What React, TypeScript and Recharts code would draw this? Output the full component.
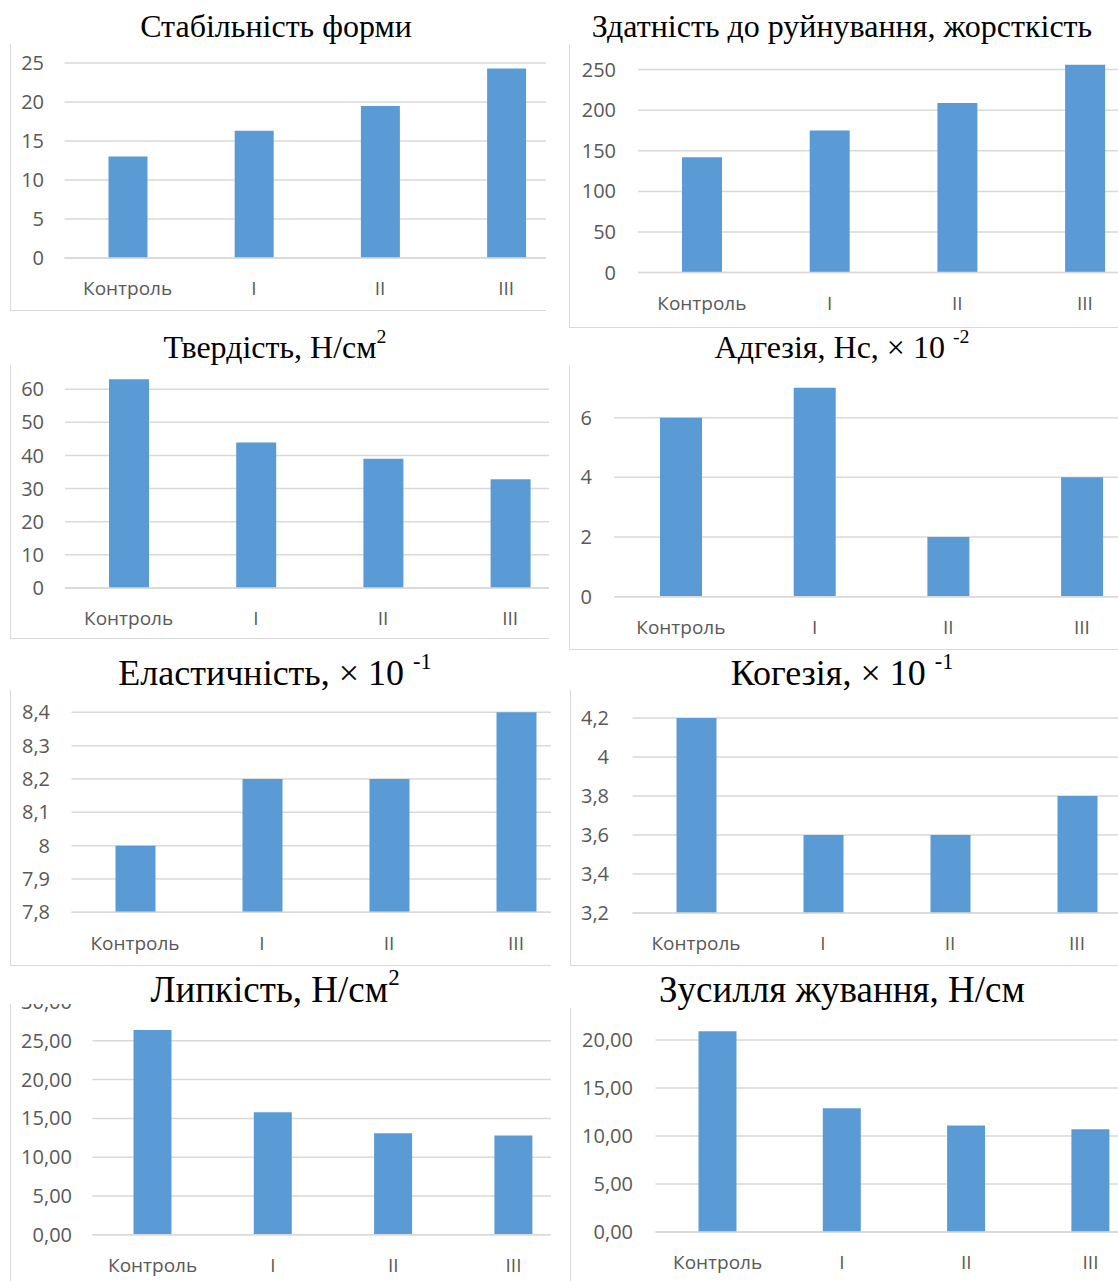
import React from 'react';
import { BarChart, Bar, XAxis, YAxis, CartesianGrid } from 'recharts';

const categories = ['Контроль', 'I', 'II', 'III'];

const shapeStability = [13, 16.3, 19.5, 24.3];
const fractureability = [142, 175, 209, 256];
const hardness = [63, 43.9, 39, 32.8];
const adhesion = [6, 7, 2, 4];
const elasticity = [8.0, 8.2, 8.2, 8.4];
const cohesion = [4.2, 3.6, 3.6, 3.8];
const stickiness = [26.4, 15.8, 13.1, 12.8];
const chewing = [20.9, 12.9, 11.1, 10.7];

// top of each axis is cut off in the source, so the last tick above the visible area is left out
const shapeTicks = [0, 5, 10, 15, 20, 25];
const fractureTicks = [0, 50, 100, 150, 200, 250];
const hardnessTicks = [0, 10, 20, 30, 40, 50, 60];
const adhesionTicks = [0, 2, 4, 6];
const elasticityTicks = [7.8, 7.9, 8, 8.1, 8.2, 8.3, 8.4];
const cohesionTicks = [3.2, 3.4, 3.6, 3.8, 4, 4.2];
const stickinessTicks = [0, 5, 10, 15, 20, 25, 30];
const chewingTicks = [0, 5, 10, 15, 20];

const BLUE = '#5B9BD5';
const GRID = '#d9d9d9';
const LABEL = '#595959';
const SANS = '"Open Sans", "Noto Sans", sans-serif';
const SERIF = '"Liberation Serif", "Times New Roman", serif';

const plain = (v: number) => String(v).replace('.', ',');
const twoDec = (v: number) => v.toFixed(2).replace('.', ',');

interface Layout {
  clip: [number, number, number, number]; // left, top, right, bottom
  plotLeft: number;
  band: number;
  yZero: number;
  yTop: number;
  labelRight: number;
  barSize: number;
  titleCenter: number;
  titleBaseline: number;
  titleSize?: number;
}

interface PanelProps {
  title: React.ReactNode;
  values: number[];
  domain: [number, number];
  ticks: number[];
  format: (v: number) => string;
  layout: Layout;
}

const sup = (s: string) => (
  <span style={{ fontSize: '0.62em', position: 'relative', top: '-0.72em', lineHeight: 0 }}>{s}</span>
);

function ChartPanel({ title, values, domain, ticks, format, layout }: PanelProps) {
  const data = categories.map((name, i) => ({ name, value: values[i] }));
  const [L, T, R, B] = layout.clip;
  const mt = 10;
  const xh = 60;
  const plotH = layout.yZero - layout.yTop;
  const yAxisW = layout.plotLeft - L;
  const width = yAxisW + layout.band * 4;
  const height = mt + plotH + xh;

  const fs = layout.titleSize ?? 32;
  const lh = Math.round(fs * 1.15);
  const baseOffset = (lh - 1.107 * fs) / 2 + 0.891 * fs;

  return (
    <>
      <div
        style={{
          position: 'absolute',
          left: layout.titleCenter - 280,
          width: 560,
          top: layout.titleBaseline - baseOffset,
          textAlign: 'center',
          fontFamily: SERIF,
          fontSize: fs,
          lineHeight: `${lh}px`,
          whiteSpace: 'nowrap',
          color: '#000',
        }}
      >
        {title}
      </div>
      <div
        style={{
          position: 'absolute',
          left: L,
          top: T,
          width: R - L,
          height: B - T,
          overflow: 'hidden',
          boxShadow: `inset 1px -1px 0 ${GRID}`,
        }}
      >
        <div style={{ position: 'absolute', left: 0, top: layout.yTop - mt - T }}>
          <BarChart width={width} height={height} data={data} margin={{ top: mt, right: 0, left: 0, bottom: 0 }}>
            <CartesianGrid vertical={false} stroke={GRID} strokeWidth={1.5} />
            <XAxis
              dataKey="name"
              height={xh}
              interval={0}
              tickLine={false}
              tickSize={0}
              tickMargin={24}
              axisLine={{ stroke: GRID, strokeWidth: 1.5 }}
              tick={{ fill: LABEL, fontSize: 19, fontFamily: SANS }}
            />
            <YAxis
              width={yAxisW}
              domain={domain}
              ticks={ticks}
              allowDataOverflow
              interval={0}
              axisLine={false}
              tickLine={false}
              tickSize={0}
              tickMargin={layout.plotLeft - layout.labelRight}
              tickFormatter={format}
              tick={{ fill: LABEL, fontSize: 20, fontFamily: SANS }}
            />
            <Bar dataKey="value" fill={BLUE} barSize={layout.barSize} isAnimationActive={false} />
          </BarChart>
        </div>
      </div>
    </>
  );
}

export default function App() {
  return (
    <div
      style={{
        position: 'absolute',
        left: 0,
        top: 0,
        width: 1118,
        height: 1281,
        overflow: 'hidden',
        background: '#fff',
      }}
    >
      <ChartPanel
        title="Стабільність форми"
        values={shapeStability}
        domain={[0, 30]}
        ticks={shapeTicks}
        format={plain}
        layout={{ clip: [10, 44, 546, 311], plotLeft: 64.5, band: 126.2, yZero: 258, yTop: 24, labelRight: 44, barSize: 39, titleCenter: 276, titleBaseline: 37 }}
      />
      <ChartPanel
        title="Здатність до руйнування, жорсткість"
        values={fractureability}
        domain={[0, 300]}
        ticks={fractureTicks}
        format={plain}
        layout={{ clip: [569, 44, 1118, 328], plotLeft: 638, band: 127.7, yZero: 273, yTop: 29.4, labelRight: 616, barSize: 40, titleCenter: 842, titleBaseline: 37 }}
      />
      <ChartPanel
        title={<>Твердість, Н/см{sup('2')}</>}
        values={hardness}
        domain={[0, 70]}
        ticks={hardnessTicks}
        format={plain}
        layout={{ clip: [10, 365, 549, 639], plotLeft: 65, band: 127.2, yZero: 588, yTop: 356, labelRight: 44, barSize: 40, titleCenter: 275, titleBaseline: 358 }}
      />
      <ChartPanel
        title={<>Адгезія, Нс, × 10 {sup('-2')}</>}
        values={adhesion}
        domain={[0, 8]}
        ticks={adhesionTicks}
        format={plain}
        layout={{ clip: [569, 366, 1118, 650], plotLeft: 614, band: 133.7, yZero: 597, yTop: 358.3, labelRight: 592, barSize: 42, titleCenter: 842, titleBaseline: 358 }}
      />
      <ChartPanel
        title={<>Еластичність, × 10 {sup('-1')}</>}
        values={elasticity}
        domain={[7.8, 8.5]}
        ticks={elasticityTicks}
        format={plain}
        layout={{ clip: [10, 690, 551, 966], plotLeft: 71.5, band: 127, yZero: 912, yTop: 678.7, labelRight: 50, barSize: 40, titleCenter: 275, titleBaseline: 686, titleSize: 36 }}
      />
      <ChartPanel
        title={<>Когезія, × 10 {sup('-1')}</>}
        values={cohesion}
        domain={[3.2, 4.4]}
        ticks={cohesionTicks}
        format={plain}
        layout={{ clip: [570, 690, 1118, 966], plotLeft: 632.5, band: 127, yZero: 913, yTop: 679, labelRight: 609, barSize: 40, titleCenter: 842, titleBaseline: 686, titleSize: 36 }}
      />
      <ChartPanel
        title={<>Липкість, Н/см{sup('2')}</>}
        values={stickiness}
        domain={[0, 30]}
        ticks={stickinessTicks}
        format={twoDec}
        layout={{ clip: [10, 1004, 551, 1290], plotLeft: 92.5, band: 120.3, yZero: 1235, yTop: 1002.2, labelRight: 72, barSize: 38, titleCenter: 275, titleBaseline: 1002, titleSize: 37 }}
      />
      <ChartPanel
        title="Зусилля жування, Н/см"
        values={chewing}
        domain={[0, 25]}
        ticks={chewingTicks}
        format={twoDec}
        layout={{ clip: [570, 1008, 1118, 1290], plotLeft: 655.5, band: 124.3, yZero: 1232, yTop: 992, labelRight: 633, barSize: 38, titleCenter: 842, titleBaseline: 1002, titleSize: 37 }}
      />
    </div>
  );
}
